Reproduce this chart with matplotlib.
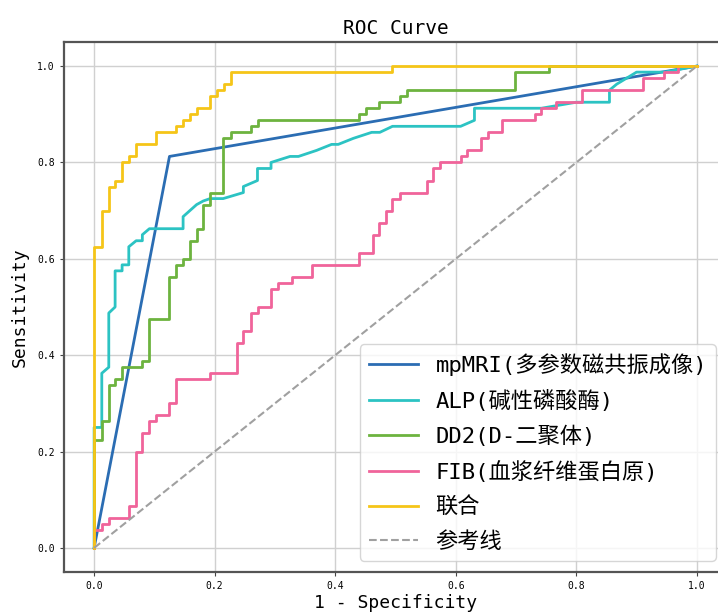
import matplotlib
matplotlib.use("Agg")
import matplotlib.pyplot as plt

# mono latin + CJK fallback, closer to the SimHei look of the original
plt.rcParams['font.family'] = ['DejaVu Sans Mono', 'Noto Sans CJK SC']
plt.rcParams['axes.unicode_minus'] = False

# === ROC points ===
mri_fpr = [0.0, 0.125, 1.0]
mri_tpr = [0.0, 0.8125, 1.0]

alp_fpr = [0.0, 0.0, 0.0127, 0.0127, 0.0243, 0.0243, 0.0348, 0.0348, 0.0464, 0.0464,
           0.0575, 0.0575, 0.0697, 0.080, 0.080, 0.0917, 0.1476, 0.1476, 0.170, 0.181,
           0.1924, 0.214, 0.2476, 0.2476, 0.271, 0.271, 0.2935, 0.2935, 0.325, 0.339,
           0.369, 0.394, 0.405, 0.430, 0.4605, 0.474, 0.495, 0.608, 0.631, 0.631,
           0.742, 0.80, 0.855, 0.855, 0.867, 0.90, 0.947, 1.0]
alp_tpr = [0.0, 0.25, 0.25, 0.3625, 0.375, 0.4875, 0.50, 0.575, 0.575, 0.5875,
           0.5875, 0.625, 0.6375, 0.6375, 0.65, 0.6625, 0.6625, 0.6875, 0.7125, 0.72,
           0.725, 0.725, 0.7375, 0.75, 0.7625, 0.7875, 0.7875, 0.80, 0.8125, 0.8125,
           0.825, 0.8375, 0.8375, 0.85, 0.8625, 0.8625, 0.875, 0.875, 0.8875, 0.9125,
           0.9125, 0.925, 0.925, 0.95, 0.9625, 0.9875, 0.9875, 1.0]

dd2_fpr = [0.0, 0.0, 0.0127, 0.0127, 0.0243, 0.0243, 0.0348, 0.0348, 0.0464, 0.0464,
           0.080, 0.080, 0.0917, 0.0917, 0.125, 0.125, 0.136, 0.136, 0.1476, 0.1476,
           0.159, 0.159, 0.170, 0.170, 0.181, 0.181, 0.1924, 0.1924, 0.2145, 0.2145,
           0.2267, 0.2267, 0.260, 0.260, 0.272, 0.272, 0.4395, 0.4395, 0.4505, 0.4505,
           0.473, 0.473, 0.5075, 0.5075, 0.5186, 0.5186, 0.698, 0.698, 0.7546, 0.7546, 1.0]
dd2_tpr = [0.0, 0.225, 0.225, 0.2625, 0.2625, 0.3375, 0.3375, 0.35, 0.35, 0.375,
           0.375, 0.3875, 0.3875, 0.475, 0.475, 0.5625, 0.5625, 0.5875, 0.5875, 0.60,
           0.60, 0.6375, 0.6375, 0.6625, 0.6625, 0.7125, 0.7125, 0.7375, 0.7375, 0.85,
           0.85, 0.8625, 0.8625, 0.875, 0.875, 0.8875, 0.8875, 0.90, 0.90, 0.9125,
           0.9125, 0.925, 0.925, 0.9375, 0.9375, 0.95, 0.95, 0.9875, 0.9875, 1.0, 1.0]

fib_fpr = [0.0, 0.0, 0.0127, 0.0127, 0.0243, 0.0243, 0.058, 0.058, 0.0697, 0.0697,
           0.080, 0.080, 0.0917, 0.0917, 0.103, 0.103, 0.125, 0.125, 0.136, 0.136,
           0.1924, 0.1924, 0.2365, 0.2365, 0.2476, 0.2476, 0.260, 0.260, 0.272, 0.272,
           0.2935, 0.2935, 0.3057, 0.3057, 0.328, 0.328, 0.361, 0.361, 0.440, 0.440,
           0.462, 0.462, 0.473, 0.473, 0.484, 0.484, 0.495, 0.495, 0.5075, 0.5075,
           0.5517, 0.5517, 0.5627, 0.5627, 0.5738, 0.5738, 0.608, 0.608, 0.619, 0.619,
           0.642, 0.642, 0.653, 0.653, 0.676, 0.676, 0.731, 0.731, 0.742, 0.742,
           0.766, 0.766, 0.810, 0.810, 0.911, 0.911, 0.945, 0.945, 0.969, 0.969, 1.0]
fib_tpr = [0.0, 0.0375, 0.0375, 0.05, 0.05, 0.0625, 0.0625, 0.0875, 0.0875, 0.20,
           0.20, 0.2375, 0.2375, 0.2625, 0.2625, 0.275, 0.275, 0.30, 0.30, 0.35,
           0.35, 0.3625, 0.3625, 0.425, 0.425, 0.45, 0.45, 0.4875, 0.4875, 0.50,
           0.50, 0.5375, 0.5375, 0.55, 0.55, 0.5625, 0.5625, 0.5875, 0.5875, 0.6125,
           0.6125, 0.65, 0.65, 0.675, 0.675, 0.70, 0.70, 0.725, 0.725, 0.7375,
           0.7375, 0.7625, 0.7625, 0.7875, 0.7875, 0.80, 0.80, 0.8125, 0.8125, 0.825,
           0.825, 0.85, 0.85, 0.8625, 0.8625, 0.8875, 0.8875, 0.90, 0.90, 0.9125,
           0.9125, 0.925, 0.925, 0.95, 0.95, 0.975, 0.975, 0.9875, 0.9875, 1.0, 1.0]

comb_fpr = [0.0, 0.0, 0.0127, 0.0127, 0.0243, 0.0243, 0.0348, 0.0348, 0.0464, 0.0464,
            0.0575, 0.0575, 0.0697, 0.0697, 0.103, 0.103, 0.1365, 0.1365, 0.1476, 0.1476,
            0.1587, 0.1587, 0.170, 0.170, 0.1924, 0.1924, 0.2035, 0.2035, 0.215, 0.215,
            0.2267, 0.2267, 0.495, 0.495, 1.0]
comb_tpr = [0.0, 0.625, 0.625, 0.70, 0.70, 0.75, 0.75, 0.7625, 0.7625, 0.80,
            0.80, 0.8125, 0.8125, 0.8375, 0.8375, 0.8625, 0.8625, 0.875, 0.875, 0.8875,
            0.8875, 0.90, 0.90, 0.9125, 0.9125, 0.9375, 0.9375, 0.95, 0.95, 0.9625,
            0.9625, 0.9875, 0.9875, 1.0, 1.0]

labels = ['mpMRI(多参数磁共振成像)', 'ALP(碱性磷酸酶)', 'DD2(D-二聚体)',
          'FIB(血浆纤维蛋白原)', '联合']
colors = ['#2b6db3', '#2cc3c3', '#6db33f', '#f0649a', '#f5c518']
ticks = [0.0, 0.2, 0.4, 0.6, 0.8, 1.0]

curves = [(mri_fpr, mri_tpr), (alp_fpr, alp_tpr), (dd2_fpr, dd2_tpr),
          (fib_fpr, fib_tpr), (comb_fpr, comb_tpr)]

fig = plt.figure(figsize=(7.18, 6.13), dpi=100)
# axes run past the right edge, like the cropped original
ax = fig.add_axes([64 / 718, 1 - 572 / 613, (727 - 64) / 718, (572 - 42) / 613])

for (fx, ty), lab, col in zip(curves, labels, colors):
    ax.plot(fx, ty, color=col, lw=2, label=lab)
ax.plot([0, 1], [0, 1], color='#a0a0a0', lw=1.5, ls='--', label='参考线')

ax.set_xlim(-0.05, 1.05)
ax.set_ylim(-0.05, 1.05)
ax.set_xticks(ticks)
ax.set_yticks(ticks)
ax.tick_params(labelsize=7, length=3, color='#444444')
ax.grid(True, color='#d0d0d0', lw=1)
for s in ax.spines.values():
    s.set_color('#555555')
    s.set_linewidth(1.6)

ax.set_title('ROC Curve', fontsize=14, pad=6)
ax.set_xlabel('1 - Specificity', fontsize=13, labelpad=2)
ax.set_ylabel('Sensitivity', fontsize=13, labelpad=6)
ax.legend(loc='lower right', fontsize=16, handlelength=2.2, handletextpad=0.8,
          framealpha=0.8, borderpad=0.4, labelspacing=0.62)

fig.savefig('out.png', dpi=100)
